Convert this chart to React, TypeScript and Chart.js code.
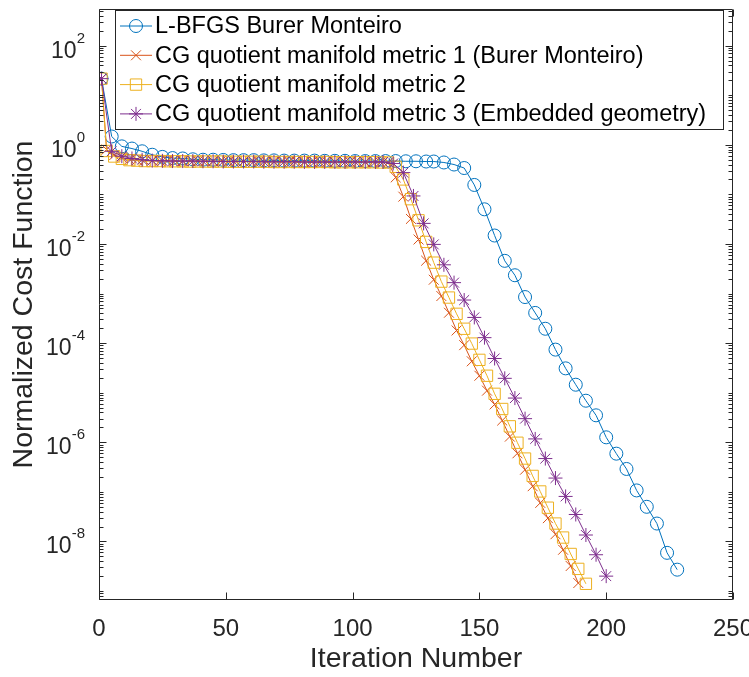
import React, { useEffect, useRef } from 'react';
import { Chart, registerables } from 'chart.js';

Chart.register(...registerables);

// ---- data -------------------------------------------------------------
const lbfgsIter = [
  1, 5, 9, 13, 17, 21, 25, 29, 33, 37, 41, 45, 49, 53, 57, 61, 65, 69, 73, 77,
  81, 85, 89, 93, 97, 101, 105, 109, 113, 117, 121, 125, 129, 132, 136, 140,
  144, 148, 152, 156, 160, 164, 168, 172, 176, 180, 184, 188, 192, 196, 200,
  204, 208, 212, 216, 220, 224, 228,
];
const lbfgsCost = [
  21.6, 1.47, 0.93, 0.84, 0.74, 0.63, 0.57, 0.54, 0.53, 0.51, 0.5, 0.5, 0.495,
  0.49, 0.49, 0.49, 0.485, 0.485, 0.48, 0.48, 0.48, 0.48, 0.475, 0.475, 0.475,
  0.47, 0.47, 0.47, 0.47, 0.47, 0.465, 0.465, 0.46, 0.46, 0.44, 0.4, 0.34,
  0.155, 0.05, 0.0148, 0.00457, 0.00234, 8.5e-4, 4.07e-4, 1.95e-4, 7.4e-5,
  3.1e-5, 1.45e-5, 6.9e-6, 3.5e-6, 1.26e-6, 5.9e-7, 2.9e-7, 1.07e-7, 5.0e-8,
  2.3e-8, 5.9e-9, 2.7e-9,
];

const metric1Iter = [
  1, 3, 6, 9, 12, 15, 18, 21, 24, 27, 30, 33, 36, 39, 42, 45, 48, 51, 54, 57,
  60, 63, 66, 69, 72, 75, 78, 81, 84, 87, 90, 93, 96, 99, 102, 105, 108, 111,
  114, 117, 120, 123, 126, 129, 132, 135, 138, 141, 144, 147, 150, 153, 156,
  159, 162, 165, 168, 171, 174, 177, 180, 183, 186, 189,
];
const metric1Cost = [
  21.6, 0.8, 0.62, 0.55, 0.51, 0.49, 0.48, 0.48, 0.475, 0.475, 0.47, 0.47,
  0.47, 0.47, 0.465, 0.465, 0.465, 0.46, 0.46, 0.46, 0.46, 0.46, 0.455, 0.455,
  0.455, 0.455, 0.455, 0.45, 0.45, 0.45, 0.45, 0.45, 0.45, 0.45, 0.45, 0.445,
  0.445, 0.445, 0.44, 0.22, 0.09, 0.032, 0.0123, 4.6e-3, 1.9e-3, 8.9e-4,
  4.1e-4, 1.8e-4, 9.1e-5, 4.3e-5, 2.2e-5, 1.1e-5, 5.8e-6, 2.75e-6, 1.3e-6,
  6.0e-7, 2.8e-7, 1.3e-7, 6.0e-8, 2.95e-8, 1.4e-8, 6.8e-9, 3.2e-9, 1.45e-9,
];

const metric2Iter = [
  1, 3, 6, 9, 12, 15, 18, 21, 24, 27, 30, 33, 36, 39, 42, 45, 48, 51, 54, 57,
  60, 63, 66, 69, 72, 75, 78, 81, 84, 87, 90, 93, 96, 99, 102, 105, 108, 111,
  114, 117, 120, 123, 126, 129, 132, 135, 138, 141, 144, 147, 150, 153, 156,
  159, 162, 165, 168, 171, 174, 177, 180, 183, 186, 189, 192,
];
const metric2Cost = [
  21.6, 0.75, 0.58, 0.52, 0.49, 0.48, 0.47, 0.47, 0.47, 0.465, 0.465, 0.465,
  0.46, 0.46, 0.46, 0.46, 0.46, 0.455, 0.455, 0.455, 0.455, 0.455, 0.455, 0.45,
  0.45, 0.45, 0.45, 0.45, 0.45, 0.45, 0.45, 0.445, 0.445, 0.445, 0.445, 0.445,
  0.445, 0.44, 0.44, 0.36, 0.2, 0.08, 0.03, 0.011, 4.2e-3, 1.74e-3, 8.3e-4,
  3.9e-4, 1.95e-4, 9.8e-5, 4.6e-5, 2.2e-5, 9.5e-6, 4.7e-6, 2.1e-6, 9.8e-7,
  4.7e-7, 2.1e-7, 1.02e-7, 4.8e-8, 2.3e-8, 1.2e-8, 5.6e-9, 2.8e-9, 1.4e-9,
];

const metric3Iter = [
  1, 5, 9, 13, 17, 21, 25, 29, 33, 37, 41, 45, 49, 53, 57, 61, 65, 69, 73, 77,
  81, 85, 89, 93, 97, 101, 105, 109, 112, 116, 120, 124, 128, 132, 136, 140,
  144, 148, 152, 156, 160, 164, 168, 172, 176, 180, 184, 188, 192, 196, 200,
];
const metric3Cost = [
  21.6, 0.74, 0.59, 0.53, 0.5, 0.48, 0.475, 0.47, 0.47, 0.47, 0.465, 0.465,
  0.46, 0.46, 0.46, 0.46, 0.455, 0.455, 0.455, 0.455, 0.45, 0.45, 0.45, 0.45,
  0.45, 0.45, 0.45, 0.45, 0.45, 0.42, 0.275, 0.093, 0.026, 0.0098, 3.8e-3,
  1.66e-3, 7.4e-4, 3.3e-4, 1.29e-4, 4.9e-5, 1.95e-5, 7.8e-6, 3.0e-6, 1.17e-6,
  4.7e-7, 1.9e-7, 8.1e-8, 3.5e-8, 1.35e-8, 5.4e-9, 2.0e-9,
];

const seriesNames = [
  'L-BFGS Burer Monteiro',
  'CG quotient manifold metric 1 (Burer Monteiro)',
  'CG quotient manifold metric 2',
  'CG quotient manifold metric 3 (Embedded geometry)',
];

const xTicks = [0, 50, 100, 150, 200, 250];
const yLabelExponents = [2, 0, -2, -4, -6, -8];
const xTitle = 'Iteration Number';
const yTitle = 'Normalized Cost Function';

// ---- styling ------------------------------------------------------------
const INK = '#262626';
const FONT = '"Liberation Sans", Arial, Helvetica, sans-serif';
const COLORS = ['#0072BD', '#D95319', '#EDB120', '#7E2F8E'];
const MARKERS: Array<{ style: string; radius: number }> = [
  { style: 'circle', radius: 6.5 },
  { style: 'crossRot', radius: 7 },
  { style: 'rect', radius: 8 },
  { style: 'star', radius: 7 },
];

const Y_MIN = 6.6e-10;
const Y_MAX = 548;

function toPoints(xs: number[], ys: number[]) {
  return xs.map((x, i) => ({ x, y: ys[i] }));
}

// Legend marker glyphs, same geometry as the chart's point styles
function legendMarker(ctx: CanvasRenderingContext2D, style: string, r: number, x: number, y: number) {
  const d = Math.SQRT1_2 * r;
  ctx.beginPath();
  if (style === 'circle') {
    ctx.arc(x, y, r, 0, Math.PI * 2);
  } else if (style === 'rect') {
    ctx.rect(x - d, y - d, 2 * d, 2 * d);
  } else if (style === 'crossRot') {
    ctx.moveTo(x - d, y - d);
    ctx.lineTo(x + d, y + d);
    ctx.moveTo(x - d, y + d);
    ctx.lineTo(x + d, y - d);
  } else if (style === 'star') {
    ctx.moveTo(x - r, y);
    ctx.lineTo(x + r, y);
    ctx.moveTo(x, y - r);
    ctx.lineTo(x, y + r);
    ctx.moveTo(x - d, y - d);
    ctx.lineTo(x + d, y + d);
    ctx.moveTo(x - d, y + d);
    ctx.lineTo(x + d, y - d);
  }
  ctx.stroke();
}

// Box, inward tick marks, y labels with raised exponents, and the legend
const axesBox = {
  id: 'axesBox',
  afterDatasetsDraw(chart: any) {
    const { ctx, chartArea: a, scales } = chart;
    const xs = scales.x;
    const ys = scales.y;
    const L = Math.round(a.left) + 0.5;
    const R = Math.round(a.right) - 0.5;
    const T = Math.round(a.top) + 0.5;
    const B = Math.round(a.bottom) - 0.5;
    ctx.save();
    ctx.strokeStyle = INK;
    ctx.lineWidth = 1;
    ctx.beginPath();
    ctx.rect(L, T, R - L, B - T);
    ctx.stroke();

    const major = 7;
    const minor = 4;
    ctx.beginPath();
    for (const v of xTicks) {
      const px = Math.round(xs.getPixelForValue(v)) + 0.5;
      ctx.moveTo(px, B);
      ctx.lineTo(px, B - major);
      ctx.moveTo(px, T);
      ctx.lineTo(px, T + major);
    }
    for (let e = -10; e <= 3; e++) {
      for (let m = 1; m <= 9; m++) {
        const v = m * Math.pow(10, e);
        if (v < Y_MIN || v > Y_MAX) continue;
        const py = Math.round(ys.getPixelForValue(v)) + 0.5;
        const len = m === 1 && e % 2 === 0 ? major : minor;
        ctx.moveTo(L, py);
        ctx.lineTo(L + len, py);
        ctx.moveTo(R, py);
        ctx.lineTo(R - len, py);
      }
    }
    ctx.stroke();

    // y tick labels: "10" followed by a superscript exponent
    ctx.fillStyle = INK;
    const rightEdge = a.left - 14;
    for (const e of yLabelExponents) {
      const py = ys.getPixelForValue(Math.pow(10, e));
      const sup = String(e);
      ctx.font = `15px ${FONT}`;
      const supW = ctx.measureText(sup).width;
      ctx.textAlign = 'left';
      ctx.textBaseline = 'alphabetic';
      ctx.fillText(sup, rightEdge - supW, py - 3);
      ctx.font = `23px ${FONT}`;
      ctx.textAlign = 'right';
      ctx.fillText('10', rightEdge - supW, py + 12);
    }
    ctx.restore();
  },
  afterDraw(chart: any) {
    const { ctx } = chart;
    const left = 115.5;
    const top = 10.5;
    const right = 723.5;
    const bottom = 129.5;
    ctx.save();
    ctx.fillStyle = '#ffffff';
    ctx.fillRect(left, top, right - left, bottom - top);
    ctx.strokeStyle = INK;
    ctx.lineWidth = 1;
    ctx.strokeRect(left, top, right - left, bottom - top);
    ctx.font = `23.5px ${FONT}`;
    ctx.textBaseline = 'middle';
    ctx.textAlign = 'left';
    const rowH = 29.3;
    seriesNames.forEach((name, i) => {
      const cy = top + 15.5 + i * rowH;
      ctx.strokeStyle = COLORS[i];
      ctx.lineWidth = 1;
      ctx.beginPath();
      ctx.moveTo(120, cy);
      ctx.lineTo(152, cy);
      ctx.stroke();
      legendMarker(ctx, MARKERS[i].style, MARKERS[i].radius, 136, cy);
      ctx.fillStyle = '#000000';
      ctx.fillText(name, 155, cy + 1);
    });
    ctx.restore();
  },
};

export default function App() {
  const ref = useRef<HTMLCanvasElement | null>(null);

  useEffect(() => {
    if (!ref.current) return;
    const sets = [
      toPoints(lbfgsIter, lbfgsCost),
      toPoints(metric1Iter, metric1Cost),
      toPoints(metric2Iter, metric2Cost),
      toPoints(metric3Iter, metric3Cost),
    ];
    const chart = new Chart(ref.current, {
      type: 'line',
      data: {
        datasets: sets.map((data, i) => ({
          label: seriesNames[i],
          data,
          order: 4 - i,
          borderColor: COLORS[i],
          borderWidth: 1,
          tension: 0,
          fill: false,
          pointStyle: MARKERS[i].style,
          pointRadius: MARKERS[i].radius,
          pointBorderColor: COLORS[i],
          pointBackgroundColor: 'rgba(0,0,0,0)',
          pointBorderWidth: 1,
        })),
      },
      options: {
        animation: false,
        responsive: false,
        devicePixelRatio: 1,
        layout: { padding: { left: 0, right: 16, top: 3, bottom: 0 } },
        plugins: { legend: { display: false }, tooltip: { enabled: false } },
        scales: {
          x: {
            type: 'linear',
            min: 0,
            max: 250,
            afterBuildTicks(s: any) {
              s.ticks = xTicks.map((v) => ({ value: v }));
            },
            ticks: {
              color: INK,
              font: { family: FONT, size: 24 },
              padding: 15,
              maxRotation: 0,
              autoSkip: false,
            },
            grid: { display: false, drawTicks: false },
            border: { display: false },
            title: {
              display: true,
              text: xTitle,
              color: INK,
              font: { family: FONT, size: 28.5 },
              padding: { top: 0, bottom: 1 },
            },
            afterFit(s: any) {
              s.height = 77;
              s.paddingLeft = 0;
              s.paddingRight = 0;
            },
          },
          y: {
            type: 'logarithmic',
            min: Y_MIN,
            max: Y_MAX,
            ticks: { display: false },
            grid: { display: false, drawTicks: false },
            border: { display: false },
            title: {
              display: true,
              text: yTitle,
              color: INK,
              font: { family: FONT, size: 28.5 },
              padding: { top: 7, bottom: 0 },
            },
            afterFit(s: any) {
              s.width = 99;
              s.paddingTop = 0;
              s.paddingBottom = 0;
            },
          },
        },
      },
      plugins: [axesBox],
    });
    return () => chart.destroy();
  }, []);

  return (
    <div style={{ position: 'fixed', left: 0, top: 0, width: 749, height: 677, background: '#fff' }}>
      <canvas ref={ref} width={749} height={677} style={{ display: 'block' }} />
    </div>
  );
}
